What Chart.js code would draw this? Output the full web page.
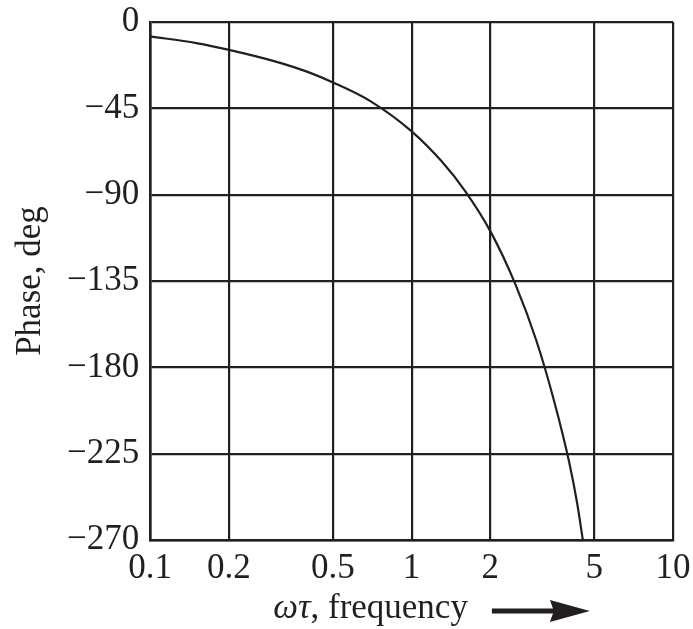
<!DOCTYPE html>
<html>
<head>
<meta charset="utf-8">
<script src="https://cdn.jsdelivr.net/npm/chart.js@4/dist/chart.umd.min.js"></script>
<style>
  html, body { margin: 0; padding: 0; background: #ffffff; }
  #wrap { width: 693px; height: 629px; position: relative; }
</style>
</head>
<body>
<div id="wrap"><canvas id="c" width="693" height="629"></canvas></div>
<script>
// Data
const freq  = [0.1, 0.15, 0.2, 0.3, 0.4, 0.5, 0.7, 1, 1.3, 1.6, 2, 2.5, 3, 3.5, 4, 4.3, 4.52];
const phase = [-7.5, -11, -14.5, -20.5, -26, -31.5, -41.5, -57, -72.5, -88, -109, -137, -166, -197, -229, -251, -270];
const xTickValues = [0.1, 0.2, 0.5, 1, 2, 5, 10];
const xTickLabels = ['0.1', '0.2', '0.5', '1', '2', '5', '10'];
const yTickValues = [0, -45, -90, -135, -180, -225, -270];
const yTickLabels = ['0', '\u221245', '\u221290', '\u2212135', '\u2212180', '\u2212225', '\u2212270'];
const yTitle = 'Phase, deg';
const xTitleItalic = '\u03c9\u03c4';
const xTitleRest = ', frequency';

const INK = '#231f20';
const FONT = '"Liberation Serif", "Times New Roman", serif';

const points = freq.map((f, i) => ({ x: f, y: phase[i] }));

function zeroPad(scale) {
  scale.paddingTop = 0; scale.paddingBottom = 0;
  scale.paddingLeft = 0; scale.paddingRight = 0;
}

const xTitlePlugin = {
  id: 'xTitleArrow',
  afterDraw(chart) {
    const ctx = chart.ctx;
    const a = chart.chartArea;
    ctx.save();
    ctx.fillStyle = INK;
    ctx.textBaseline = 'alphabetic';
    ctx.textAlign = 'left';
    let x = a.left + 123;
    const base = a.bottom + 78;
    ctx.font = 'italic 35px ' + FONT;
    ctx.fillText(xTitleItalic, x, base);
    x += ctx.measureText(xTitleItalic).width;
    ctx.font = '35px ' + FONT;
    ctx.fillText(xTitleRest, x, base);
    x += ctx.measureText(xTitleRest).width;
    // arrow
    const ax0 = x + 24, ax1 = x + 122, ay = base - 7;
    ctx.strokeStyle = INK;
    ctx.lineWidth = 5;
    ctx.beginPath();
    ctx.moveTo(ax0, ay);
    ctx.lineTo(ax1 - 30, ay);
    ctx.stroke();
    ctx.beginPath();
    ctx.moveTo(ax1, ay);
    ctx.lineTo(ax1 - 40, ay - 11);
    ctx.lineTo(ax1 - 36, ay);
    ctx.lineTo(ax1 - 40, ay + 11);
    ctx.closePath();
    ctx.fill();
    ctx.restore();
  }
};

new Chart(document.getElementById('c'), {
  type: 'line',
  data: {
    datasets: [{
      data: points,
      borderColor: INK,
      borderWidth: 2.2,
      pointRadius: 0,
      fill: false,
      cubicInterpolationMode: 'monotone'
    }]
  },
  options: {
    responsive: false,
    animation: false,
    devicePixelRatio: 1,
    layout: { padding: { left: 10, right: 20, top: 22, bottom: 31 } },
    plugins: { legend: { display: false }, tooltip: { enabled: false } },
    scales: {
      x: {
        type: 'logarithmic',
        min: 0.1,
        max: 10,
        afterBuildTicks(scale) { scale.ticks = xTickValues.map(v => ({ value: v })); },
        afterFit: zeroPad,
        ticks: {
          autoSkip: false,
          maxRotation: 0,
          padding: 8,
          color: INK,
          font: { family: FONT, size: 35 },
          callback(value) { const i = xTickValues.indexOf(value); return i >= 0 ? xTickLabels[i] : ''; }
        },
        grid: { color: INK, lineWidth: 2.2, drawTicks: false },
        border: { color: INK, width: 2.6 }
      },
      y: {
        type: 'linear',
        min: -270,
        max: 0,
        afterBuildTicks(scale) { scale.ticks = yTickValues.map(v => ({ value: v })); },
        afterFit: zeroPad,
        ticks: {
          autoSkip: false,
          padding: 11,
          color: INK,
          font: { family: FONT, size: 35 },
          callback(value) { const i = yTickValues.indexOf(value); return i >= 0 ? yTickLabels[i] : ''; }
        },
        title: {
          display: true,
          text: yTitle,
          color: INK,
          font: { family: FONT, size: 35 },
          padding: { top: 0, bottom: 4 }
        },
        grid: { color: INK, lineWidth: 2.2, drawTicks: false },
        border: { color: INK, width: 2.6 }
      }
    }
  },
  plugins: [xTitlePlugin]
});
</script>
</body>
</html>
